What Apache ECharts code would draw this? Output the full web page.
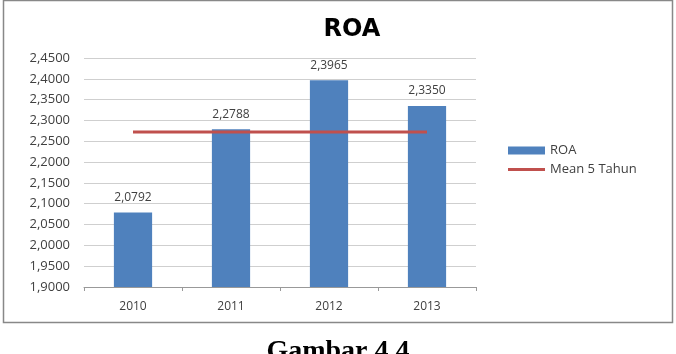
<!DOCTYPE html>
<html>
<head>
<meta charset="utf-8">
<script src="https://cdn.jsdelivr.net/npm/echarts@6/dist/echarts.min.js"></script>
<style>
html, body { margin: 0; padding: 0; background: #fff; }
#chart { width: 676px; height: 354px; }
</style>
</head>
<body>
<div id="chart"></div>
<script>
const years = ['2010', '2011', '2012', '2013'];
const roa = [2.0792, 2.2788, 2.3965, 2.3350];
const mean5 = [2.2724, 2.2724, 2.2724, 2.2724];

const fmt = v => v.toFixed(4).replace('.', ',');

let chart = echarts.init(document.getElementById('chart'));
let option = {
	backgroundColor: '#fff',
	textStyle: { fontFamily: 'Open Sans' },
	title: {
		text: 'ROA',
		left: 347,
		top: 13,
		textAlign: 'center',
		textStyle: { fontSize: 24, fontWeight: 'bold', color: '#000', fontFamily: 'DejaVu Sans' }
	},
	legend: {
		orient: 'vertical',
		left: 503,
		top: 139,
		itemGap: 6,
		itemWidth: 37,
		itemHeight: 8,
		textStyle: { fontSize: 13, color: '#404040' },
		data: [
			{ name: 'ROA', icon: 'rect' },
			{ name: 'Mean 5 Tahun', icon: 'path://M0,3.5L40,3.5L40,6.5L0,6.5Z' }
		]
	},
	grid: { left: 84, right: 200, top: 58, bottom: 67 },
	xAxis: {
		type: 'category',
		data: years,
		axisLine: { lineStyle: { color: '#999' } },
		axisTick: { show: true, length: 4, lineStyle: { color: '#999' } },
		axisLabel: { color: '#404040', fontSize: 12, margin: 14 }
	},
	yAxis: {
		type: 'value',
		min: 1.9,
		max: 2.45,
		interval: 0.05,
		axisLine: { show: false },
		axisTick: { show: false },
		splitLine: { lineStyle: { color: '#cfcfcf' } },
		axisLabel: { color: '#404040', fontSize: 13, margin: 14, formatter: v => fmt(v) }
	},
	series: [
		{
			name: 'ROA',
			type: 'bar',
			data: roa,
			barWidth: '39%',
			itemStyle: { color: '#4f81bd' },
			label: { show: true, position: 'top', distance: 9, color: '#404040', fontSize: 12, formatter: p => fmt(p.value) }
		},
		{
			name: 'Mean 5 Tahun',
			type: 'line',
			data: mean5,
			symbol: 'none',
			lineStyle: { color: '#c0504d', width: 3 },
			itemStyle: { color: '#c0504d' }
		}
	],
	graphic: [
		{
			type: 'rect',
			shape: { x: 3.5, y: 0.5, width: 669, height: 322 },
			style: { fill: 'none', stroke: '#888', lineWidth: 1.5 }
		},
		{
			type: 'text',
			left: 'center',
			top: 338,
			style: { text: 'Gambar 4.4', font: 'bold 28px "Liberation Serif"', fill: '#000' }
		}
	]
};
chart.setOption(option);
</script>
</body>
</html>
